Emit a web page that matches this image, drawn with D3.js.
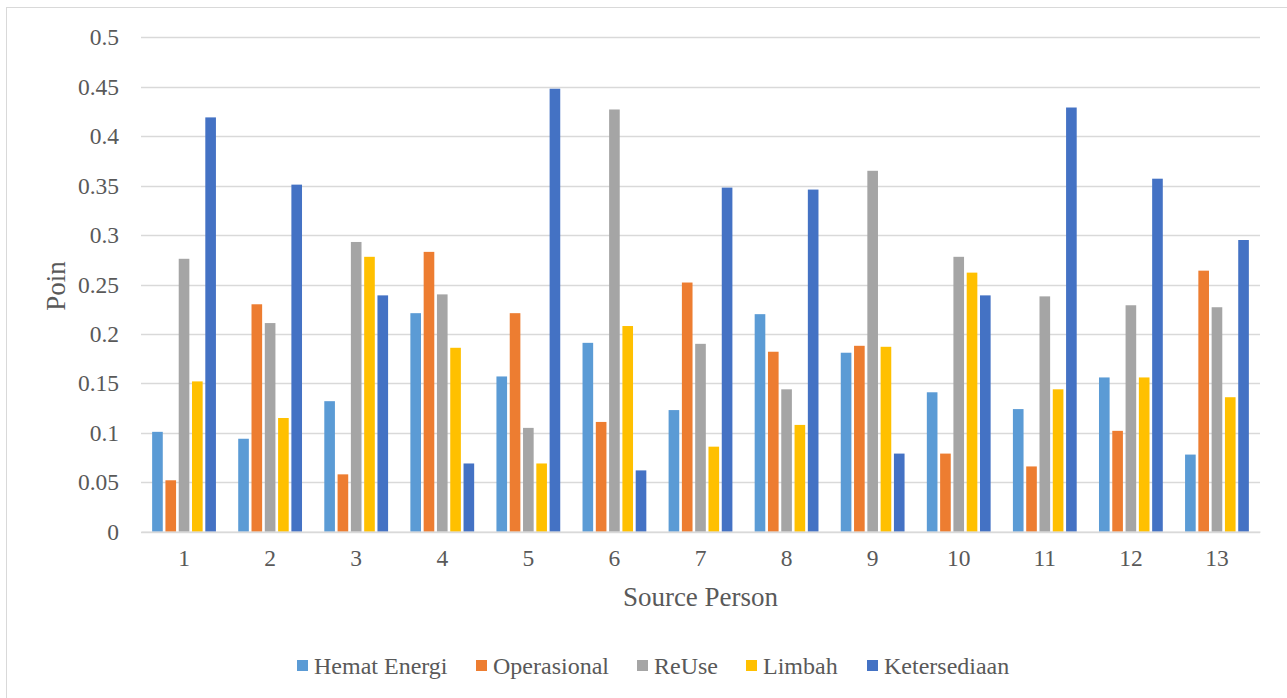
<!DOCTYPE html>
<html><head><meta charset="utf-8">
<script src="https://cdn.jsdelivr.net/npm/d3@7"></script>
<style>body{margin:0;background:#fff;} svg{display:block;}</style>
</head><body>
<svg id="chart" width="1287" height="698"></svg>
<script>
const categories = ["1","2","3","4","5","6","7","8","9","10","11","12","13"];
const seriesNames = ["Hemat Energi","Operasional","ReUse","Limbah","Ketersediaan"];
const seriesColors = ["#5B9BD5","#ED7D31","#A5A5A5","#FFC000","#4472C4"];
const hematEnergi  = [0.101,0.094,0.132,0.221,0.157,0.191,0.123,0.220,0.181,0.141,0.124,0.156,0.078];
const operasional  = [0.052,0.230,0.058,0.283,0.221,0.111,0.252,0.182,0.188,0.079,0.066,0.102,0.264];
const reUse        = [0.276,0.211,0.293,0.240,0.105,0.427,0.190,0.144,0.365,0.278,0.238,0.229,0.227];
const limbah       = [0.152,0.115,0.278,0.186,0.069,0.208,0.086,0.108,0.187,0.262,0.144,0.156,0.136];
const ketersediaan = [0.419,0.351,0.239,0.069,0.448,0.062,0.348,0.346,0.079,0.239,0.429,0.357,0.295];
const yTicks = [0,0.05,0.1,0.15,0.2,0.25,0.3,0.35,0.4,0.45,0.5];
const yTickLabels = ["0","0.05","0.1","0.15","0.2","0.25","0.3","0.35","0.4","0.45","0.5"];
const seriesValues = [hematEnergi, operasional, reUse, limbah, ketersediaan];

const svg = d3.select("#chart");
const font = "'Liberation Serif','Times New Roman',serif";
const textColor = "#595959";

// outer border (right/bottom edges fall outside the picture)
svg.append("rect").attr("x",6.5).attr("y",7.5).attr("width",1320).attr("height",720)
  .attr("fill","#fff").attr("stroke","#d9d9d9").attr("stroke-width",1);

const plot = {left:141, right:1260, top:37.3, bottom:531.7};
const y = d3.scaleLinear().domain([0,0.5]).range([plot.bottom, plot.top]);
const x0 = d3.scaleBand().domain(categories).range([plot.left, plot.right]).padding(0);
const innerPad = (x0.bandwidth() - 63.8)/2;
const x1 = d3.scaleBand().domain(seriesNames).range([innerPad, x0.bandwidth()-innerPad]).paddingInner(0.2).paddingOuter(0);

// gridlines
svg.append("g").selectAll("line").data(yTicks).join("line")
  .attr("x1",plot.left).attr("x2",plot.right)
  .attr("y1",d=>Math.round(y(d))+0.5).attr("y2",d=>Math.round(y(d))+0.5)
  .attr("stroke","#d9d9d9").attr("stroke-width",1.3);

// y tick labels
const yAxis = d3.axisLeft(y).tickValues(yTicks).tickFormat((d,i)=>yTickLabels[i]).tickSize(0).tickPadding(22);
const gy = svg.append("g").attr("transform",`translate(${plot.left},0)`).call(yAxis);
gy.select(".domain").remove();
gy.selectAll("text").attr("font-family",font).attr("font-size",23.5).attr("fill",textColor);

// bars
const groups = svg.append("g").selectAll("g").data(categories).join("g")
  .attr("transform",d=>`translate(${x0(d)},0)`);
groups.selectAll("rect").data((c,ci)=>seriesNames.map((s,si)=>({s,si,v:seriesValues[si][ci]}))).join("rect")
  .attr("x",d=>x1(d.s)).attr("width",x1.bandwidth())
  .attr("y",d=>y(d.v)).attr("height",d=>y(0)-y(d.v))
  .attr("fill",d=>seriesColors[d.si]);

// x axis
const xAxis = d3.axisBottom(x0).tickSize(0).tickPadding(18);
const gx = svg.append("g").attr("transform",`translate(0,${plot.bottom})`).call(xAxis);
gx.select(".domain").attr("stroke","#d9d9d9").attr("stroke-width",1.3);
gx.selectAll("text").attr("font-family",font).attr("font-size",23.5).attr("fill",textColor);

// axis titles
svg.append("text").attr("x",(plot.left+plot.right)/2).attr("y",606).attr("text-anchor","middle")
  .attr("font-family",font).attr("font-size",27).attr("fill",textColor).text("Source Person");
svg.append("text").attr("transform",`translate(65,286) rotate(-90)`)
  .attr("text-anchor","middle").attr("font-family",font).attr("font-size",27).attr("fill",textColor).text("Poin");

// legend
const legendX = [297,476,637,746,867];
const lg = svg.append("g").selectAll("g").data(seriesNames).join("g")
  .attr("transform",(d,i)=>`translate(${legendX[i]},674)`);
lg.append("rect").attr("x",0).attr("y",-14).attr("width",11).attr("height",11).attr("fill",(d,i)=>seriesColors[i]);
lg.append("text").attr("x",17).attr("y",0).attr("font-family",font).attr("font-size",24).attr("fill",textColor).text(d=>d);
</script>
</body></html>
